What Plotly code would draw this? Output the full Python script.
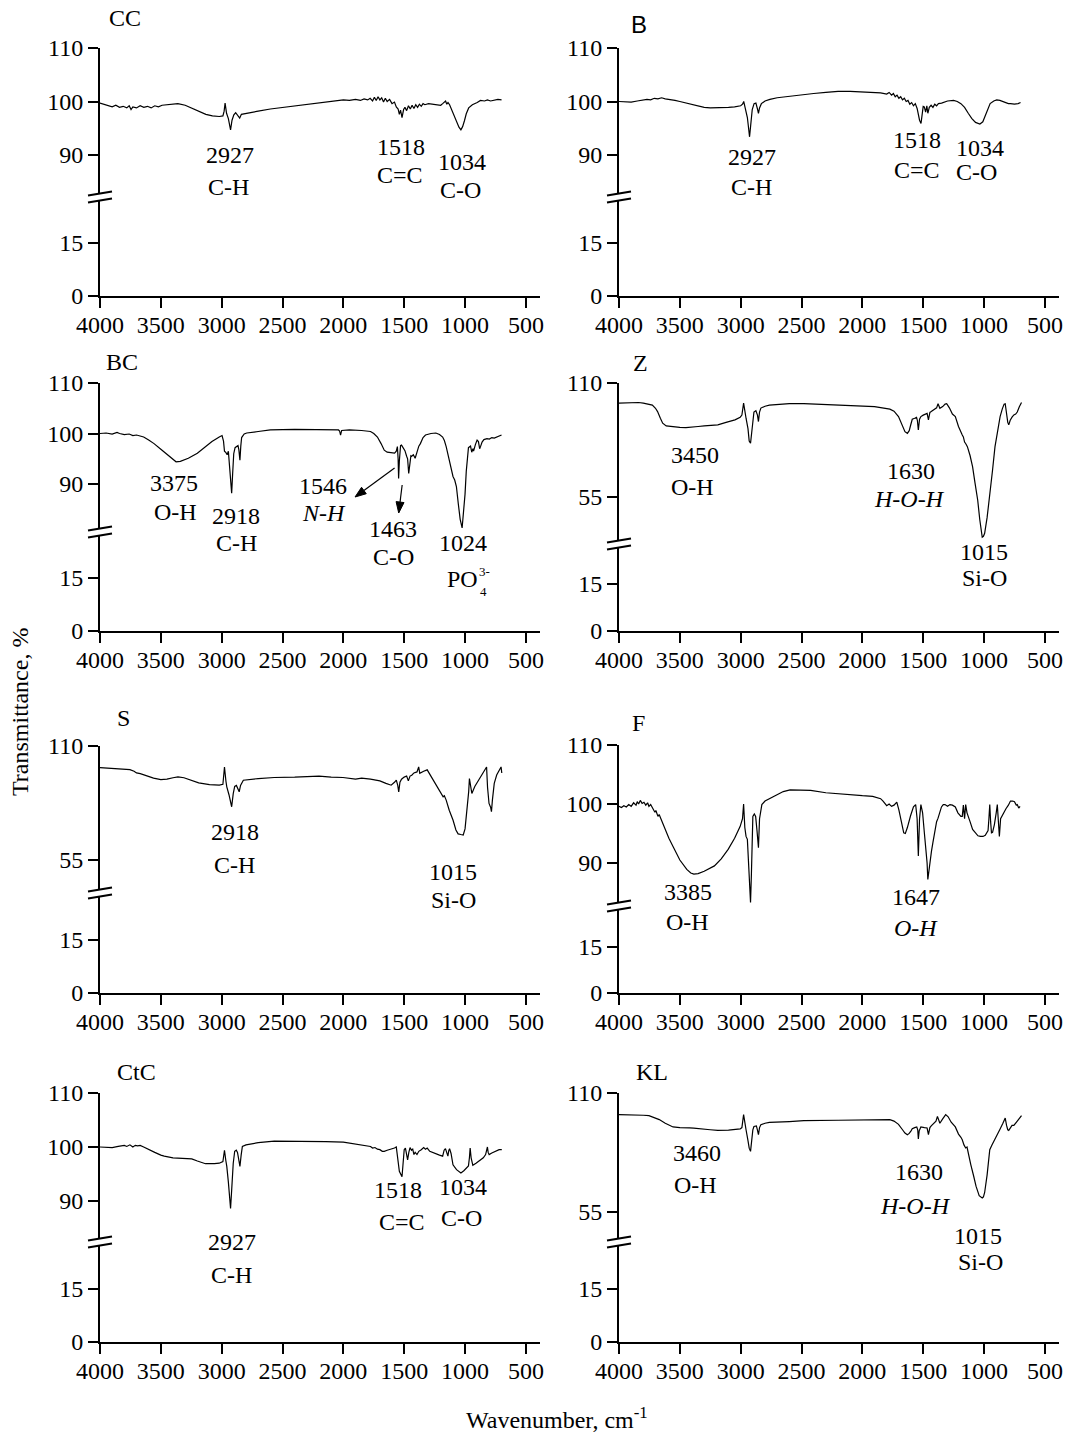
import math
import plotly.graph_objects as go

# ---------------- FTIR spectra: wavenumber (cm-1) and transmittance (%) ----------------
cc_wn = [4000, 3960, 3930, 3900, 3870, 3840, 3810, 3780, 3760, 3745, 3730, 3700, 3670, 3640, 3610,
         3580, 3550, 3520, 3490, 3450, 3400, 3360, 3300, 3240, 3190, 3130, 3076, 3020, 2990, 2980,
         2972, 2960, 2945, 2935, 2927, 2915, 2900, 2885, 2866, 2852, 2838, 2800, 2700, 2600, 2500,
         2400, 2300, 2200, 2100, 2000, 1950, 1900, 1860, 1830, 1800, 1780, 1760, 1745, 1730, 1715,
         1700, 1685, 1670, 1655, 1640, 1620, 1600, 1580, 1565, 1550, 1540, 1530, 1518, 1505, 1494,
         1480, 1465, 1450, 1435, 1420, 1405, 1390, 1375, 1360, 1345, 1330, 1300, 1250, 1200, 1184,
         1160, 1150, 1140, 1127, 1110, 1090, 1070, 1050, 1034, 1020, 1005, 990, 970, 957, 940, 900,
         873, 840, 816, 790, 760, 730, 700]
cc_t = [99.7, 99.4, 99.2, 99.0, 99.3, 98.9, 99.1, 98.8, 99.2, 98.5, 99.0, 98.8, 99.2, 98.9, 99.1,
        98.8, 99.2, 99.0, 99.3, 99.4, 99.6, 99.6, 99.3, 98.7, 98.1, 97.6, 97.3, 97.2, 97.3, 98.2,
        99.7, 97.8, 96.8, 95.8, 94.7, 96.5, 97.5, 97.9, 97.3, 96.9, 97.6, 97.8, 98.2, 98.6, 98.9,
        99.2, 99.5, 99.8, 100.1, 100.3, 100.2, 100.4, 100.2, 100.5, 100.3, 100.6, 100.1, 100.8, 100.2, 100.9,
        100.3, 100.7, 99.9, 100.6, 100.0, 100.4, 99.6, 99.9, 99.0, 98.6, 97.6, 98.4, 97.0, 98.5, 98.9,
        98.3, 99.2, 98.6, 99.3, 98.7, 99.4, 98.9, 99.5, 99.1, 99.6, 99.4, 99.6, 99.5, 99.3, 99.6,
        100.1, 99.5, 99.8, 99.4, 98.4, 97.3, 96.2, 95.2, 94.7, 95.3, 96.4, 97.7, 98.8, 99.1, 99.4, 99.8,
        100.2, 100.1, 100.3, 100.1, 100.2, 100.4, 100.3]

b_wn = [4000, 3950, 3900, 3850, 3800, 3770, 3740, 3710, 3680, 3650, 3620, 3580, 3540, 3500, 3450,
        3400, 3350, 3300, 3250, 3200, 3150, 3100, 3050, 3000, 2985, 2975, 2965, 2945, 2935, 2927,
        2918, 2905, 2890, 2875, 2862, 2854, 2845, 2830, 2800, 2760, 2700, 2600, 2500, 2400, 2300,
        2200, 2100, 2000, 1900, 1850, 1800, 1780, 1760, 1745, 1730, 1715, 1700, 1685, 1670, 1655,
        1640, 1625, 1610, 1595, 1580, 1565, 1550, 1540, 1530, 1518, 1510, 1500, 1491, 1480, 1470,
        1462, 1450, 1435, 1420, 1405, 1390, 1375, 1349, 1300, 1250, 1220, 1190, 1160, 1130, 1100,
        1070, 1050, 1034, 1010, 990, 970, 950, 920, 896, 870, 840, 800, 783, 750, 720, 700]
b_t = [100.0, 100.0, 99.9, 100.1, 100.2, 100.4, 100.3, 100.6, 100.5, 100.7, 100.5, 100.4, 100.2, 100.0, 99.7,
       99.4, 99.1, 98.9, 98.8, 98.8, 98.8, 98.9, 99.0, 99.2, 99.5, 100.0, 99.0, 97.0, 95.0, 93.4,
       95.5, 98.5, 99.6, 99.7, 98.6, 97.8, 98.8, 99.6, 100.1, 100.4, 100.7, 101.0, 101.3, 101.5, 101.7,
       101.9, 101.9, 101.8, 101.7, 101.6, 101.4, 101.7, 101.2, 101.5, 100.9, 101.2, 100.6, 100.9, 100.3, 100.6,
       100.0, 100.2, 99.5, 99.8, 99.2, 99.6, 98.7, 97.2, 96.5, 95.9, 97.8, 99.1, 99.0, 98.0, 99.2,
       97.8, 98.9, 99.3, 98.9, 99.5, 99.2, 99.6, 99.7, 100.1, 100.2, 100.0, 99.6, 98.9, 97.8, 96.8,
       96.1, 95.9, 95.8, 96.2, 97.3, 98.6, 99.6, 100.1, 100.3, 100.2, 99.9, 99.6, 99.6, 99.5, 99.6, 99.8]

bc_wn = [4000, 3950, 3900, 3860, 3839, 3800, 3760, 3730, 3700, 3670, 3641, 3600, 3556, 3500, 3443,
         3400, 3375, 3340, 3300, 3274, 3200, 3133, 3080, 3020, 2997, 2985, 2977, 2965, 2955, 2945,
         2932, 2918, 2910, 2901, 2890, 2878, 2866, 2859, 2850, 2843, 2836, 2815, 2794, 2700, 2600,
         2400, 2200, 2100, 2040, 2031, 2023, 2014, 1950, 1850, 1800, 1777, 1750, 1720, 1690, 1664,
         1640, 1610, 1579, 1565, 1556, 1550, 1546, 1540, 1530, 1522, 1510, 1494, 1480, 1472, 1463,
         1455, 1445, 1438, 1425, 1410, 1395, 1380, 1367, 1345, 1325, 1280, 1240, 1210, 1184, 1170,
         1155, 1130, 1110, 1099, 1085, 1071, 1055, 1040, 1024, 1010, 1000, 990, 980, 972, 955,
         945, 935, 930, 915, 901, 890, 880, 873, 860, 845, 820, 800, 780, 760, 740, 720, 700]
bc_t = [100.0, 100.1, 99.9, 100.2, 100.0, 99.8, 99.9, 99.6, 99.7, 99.5, 99.3, 98.7, 98.0, 96.9, 95.7,
        94.8, 94.4, 94.5, 94.8, 95.1, 96.1, 97.4, 98.4, 99.3, 99.6, 98.5, 96.5, 96.2, 95.8, 96.5,
        93.0, 88.2, 92.0, 96.0, 97.2, 97.5, 97.6, 96.8, 94.7, 97.5, 99.2, 99.9, 100.1, 100.4, 100.7,
        100.8, 100.8, 100.7, 100.7, 100.5, 99.7, 100.6, 100.7, 100.6, 100.5, 100.4, 100.0, 99.3, 98.0, 96.7,
        96.3, 96.2, 96.1, 96.5, 97.4, 95.0, 91.1, 94.5, 97.6, 97.7, 97.3, 96.6, 95.5, 95.0, 92.1,
        94.0, 95.6, 95.5, 95.8, 95.1, 96.3, 97.5, 98.0, 99.2, 99.7, 100.0, 100.1, 99.8, 99.3, 98.6,
        97.4, 94.5, 92.3, 91.5, 90.8, 89.5, 86.0, 83.0, 81.3, 84.5, 88.0, 92.5, 95.8, 97.2, 97.5,
        96.3, 97.0, 96.5, 97.8, 98.7, 98.4, 97.0, 97.4, 98.3, 98.8, 99.0, 98.9, 99.2, 99.1, 99.3, 99.4, 99.7]

z_wn = [4000, 3950, 3900, 3860, 3839, 3800, 3760, 3726, 3700, 3683, 3660, 3641, 3612, 3580, 3540,
        3500, 3450, 3400, 3350, 3300, 3250, 3188, 3120, 3047, 3004, 2990, 2976, 2965, 2956, 2940,
        2930, 2919, 2910, 2900, 2891, 2875, 2862, 2854, 2845, 2834, 2800, 2764, 2700, 2600, 2481,
        2300, 2100, 1900, 1774, 1740, 1703, 1670, 1650, 1630, 1615, 1604, 1590, 1570, 1555, 1548,
        1540, 1530, 1519, 1500, 1480, 1468, 1457, 1445, 1434, 1410, 1390, 1378, 1370, 1363, 1340,
        1320, 1307, 1285, 1260, 1236, 1210, 1190, 1179, 1170, 1160, 1150, 1137, 1115, 1094, 1075,
        1052, 1035, 1025, 1015, 1005, 995, 975, 953, 930, 910, 890, 868, 850, 835, 826,
        815, 805, 797, 785, 770, 755, 740, 727, 710, 692]
z_t = [100.3, 100.4, 100.5, 100.6, 100.6, 100.3, 99.8, 99.3, 97.8, 96.2, 93.0, 90.6, 89.3, 89.0, 88.9,
       88.6, 88.5, 88.6, 89.0, 89.3, 89.5, 89.8, 91.0, 92.2, 93.5, 94.5, 100.3, 95.0, 93.0, 88.0,
       82.0, 80.9, 87.0, 93.5, 96.0, 96.6, 94.5, 91.4, 96.0, 97.9, 98.8, 99.3, 99.7, 100.0, 100.0,
       99.5, 99.0, 98.6, 97.4, 96.4, 93.8, 89.5, 86.5, 85.7, 87.0, 89.5, 92.5, 93.0, 93.4, 92.0,
       87.3, 92.5, 93.8, 94.5, 95.0, 95.3, 92.2, 95.8, 96.2, 97.0, 98.0, 100.0, 98.0, 97.8, 98.6,
       99.8, 100.0, 98.0, 95.0, 93.8, 89.0, 86.0, 84.9, 84.0, 81.5, 80.7, 79.3, 75.0, 69.5, 62.0,
       53.4, 44.0, 38.5, 35.6, 36.0, 37.5, 45.0, 55.0, 68.0, 79.3, 87.0, 93.8, 97.5, 99.8, 100.0,
       95.0, 91.0, 89.8, 92.0, 93.5, 94.6, 95.0, 96.0, 98.5, 100.6]

s_wn = [4000, 3950, 3900, 3850, 3800, 3754, 3720, 3700, 3669, 3620, 3560, 3500, 3450, 3400, 3359,
        3310, 3260, 3189, 3100, 3020, 2990, 2977, 2965, 2958, 2940, 2930, 2918, 2905, 2893, 2879,
        2866, 2856, 2845, 2822, 2700, 2568, 2400, 2200, 2100, 2003, 1900, 1850, 1777, 1700, 1650,
        1607, 1580, 1565, 1553, 1545, 1535, 1522, 1500, 1480, 1466, 1452, 1438, 1420, 1395, 1381,
        1372, 1367, 1340, 1311, 1290, 1268, 1240, 1212, 1190, 1180, 1170, 1155, 1130, 1099, 1075,
        1057, 1035, 1015, 1000, 985, 970, 964, 955, 944, 920, 880, 840, 823, 815, 803,
        790, 783, 775, 760, 740, 720, 704, 698]
s_t = [99.6, 99.4, 99.2, 99.3, 98.9, 98.6, 97.8, 97.0, 96.7, 95.8, 94.5, 93.8, 94.0, 94.7, 95.1,
       94.7, 93.6, 92.2, 91.4, 91.1, 91.5, 99.9, 93.0, 90.3, 86.5, 83.0, 80.7, 87.0, 90.5, 91.0,
       89.5, 87.9, 91.0, 93.5, 94.3, 94.8, 95.0, 95.5, 95.0, 94.8, 94.0, 94.5, 94.0, 93.2, 92.0,
       91.1, 92.5, 93.5, 91.0, 87.9, 92.5, 94.0, 95.0, 95.5, 93.2, 95.5, 95.9, 97.0, 97.5, 99.9,
       96.8, 97.0, 97.8, 98.5, 96.5, 94.3, 91.5, 88.7, 87.0, 85.5, 86.0, 83.9, 79.0, 74.3, 69.5,
       67.6, 67.3, 67.1, 70.0, 78.0, 88.0, 94.3, 90.0, 87.1, 90.5, 94.5, 98.0, 99.9, 90.0, 82.3,
       80.5, 78.3, 84.0, 92.0, 96.0, 98.5, 99.9, 97.0]

f_wn = [4000, 3980, 3960, 3940, 3920, 3900, 3880, 3860, 3850, 3839, 3825, 3810, 3795, 3780, 3765,
        3754, 3740, 3720, 3705, 3697, 3680, 3670, 3655, 3620, 3590, 3556, 3500, 3443, 3410, 3385,
        3350, 3300, 3250, 3216, 3160, 3103, 3050, 3004, 2985, 2976, 2966, 2956, 2945, 2935, 2927,
        2919, 2912, 2900, 2888, 2877, 2866, 2854, 2845, 2826, 2800, 2764, 2700, 2650, 2594, 2500,
        2425, 2300, 2198, 2100, 2000, 1915, 1850, 1830, 1815, 1800, 1780, 1760, 1740, 1717, 1700,
        1685, 1670, 1660, 1647, 1630, 1604, 1580, 1562, 1550, 1540, 1530, 1519, 1505, 1490, 1478,
        1468, 1462, 1450, 1440, 1432, 1420, 1405, 1390, 1378, 1365, 1350, 1335, 1321, 1300, 1280,
        1260, 1236, 1215, 1200, 1190, 1179, 1170, 1160, 1151, 1140, 1128, 1115, 1094, 1070, 1050,
        1030, 1009, 990, 975, 967, 960, 953, 946, 939, 930, 915, 900, 891, 882, 874,
        864, 854, 840, 820, 800, 783, 765, 750, 735, 727, 715, 704]
f_t = [99.6, 99.4, 99.7, 99.5, 99.9, 99.6, 100.2, 99.8, 100.4, 100.0, 100.6, 100.1, 100.3, 99.8, 100.2,
       99.6, 99.9, 99.0, 98.6, 98.9, 97.9, 98.2, 97.4, 95.7, 94.2, 92.8, 90.5, 88.9, 88.3, 88.1,
       88.2, 88.6, 89.1, 89.5, 90.7, 92.3, 94.2, 96.2, 97.5, 100.0, 96.0, 94.5, 94.0, 90.0, 86.0,
       83.3, 88.0, 97.9, 98.3, 97.9, 95.5, 92.6, 97.5, 99.9, 100.5, 100.9, 101.6, 102.1, 102.4, 102.4,
       102.3, 101.9, 101.7, 101.5, 101.4, 101.3, 100.9, 100.5, 100.1, 99.7, 100.0, 99.6, 99.8, 100.3, 99.0,
       97.5, 96.0, 95.1, 95.0, 96.0, 98.0, 99.5, 99.9, 97.5, 91.2, 97.5, 99.9, 98.5, 95.0, 92.5,
       90.0, 87.2, 89.5, 91.5, 92.0, 93.5, 95.5, 97.0, 97.6, 98.5, 99.5, 99.9, 99.9, 99.6, 99.9,
       99.8, 99.5, 98.5, 98.0, 97.9, 97.9, 99.8, 97.5, 99.9, 98.5, 97.6, 97.0, 95.7, 95.0, 94.6,
       94.5, 94.5, 94.7, 95.3, 95.5, 97.5, 99.9, 97.0, 95.1, 95.2, 96.5, 98.5, 99.9, 97.0, 94.5,
       97.5, 97.9, 98.6, 99.2, 99.8, 100.5, 100.5, 100.4, 99.8, 99.9, 99.3, 99.6]

ctc_wn = [4000, 3950, 3900, 3850, 3800, 3780, 3754, 3730, 3710, 3690, 3670, 3641, 3600, 3550, 3500,
          3472, 3400, 3320, 3246, 3200, 3133, 3060, 3020, 2990, 2977, 2966, 2958, 2945, 2935, 2927,
          2918, 2905, 2893, 2880, 2870, 2862, 2850, 2840, 2830, 2800, 2700, 2568, 2400, 2200, 2143,
          2000, 1900, 1800, 1777, 1760, 1740, 1720, 1700, 1680, 1664, 1640, 1600, 1580, 1565, 1555,
          1540, 1518, 1510, 1500, 1490, 1480, 1472, 1462, 1452, 1440, 1430, 1420, 1410, 1395, 1380,
          1360, 1340, 1325, 1311, 1290, 1250, 1210, 1184, 1172, 1161, 1150, 1141, 1134, 1127, 1115,
          1099, 1070, 1050, 1034, 1010, 985, 972, 964, 958, 950, 936, 910, 880, 850, 831,
          822, 816, 810, 802, 780, 750, 720, 698]
ctc_t = [100.0, 100.0, 99.9, 100.1, 100.3, 100.1, 100.4, 100.0, 100.3, 100.2, 100.3, 100.0, 99.5, 99.0, 98.5,
         98.3, 98.0, 97.9, 97.8, 97.4, 96.9, 96.9, 97.0, 97.3, 99.4, 97.5, 96.4, 93.5, 90.5, 88.6,
         92.0, 97.0, 99.2, 99.4, 99.0, 97.6, 96.4, 98.5, 100.1, 100.4, 100.8, 101.1, 101.1, 101.1, 101.0,
         100.9, 100.6, 100.3, 100.1, 99.8, 99.9, 99.6, 99.5, 99.2, 99.2, 99.4, 99.6, 99.8, 100.0, 98.5,
         95.5, 94.5, 97.5, 99.5, 99.8, 98.8, 97.6, 99.0, 99.9, 99.4, 99.6, 98.6, 99.0, 98.6, 99.2,
         99.5, 99.9, 99.6, 99.8, 99.2, 98.8, 98.5, 98.3, 99.4, 99.7, 98.8, 98.3, 99.3, 99.7, 98.8,
         96.7, 95.8, 95.4, 95.2, 95.6, 96.3, 96.5, 98.0, 99.8, 98.0, 96.6, 97.0, 97.5, 98.0, 98.6,
         99.3, 100.0, 99.0, 98.6, 98.9, 99.2, 99.5, 99.5]

kl_wn = [4000, 3950, 3900, 3850, 3800, 3754, 3720, 3690, 3669, 3620, 3580, 3556, 3500, 3460, 3420,
         3386, 3330, 3250, 3188, 3100, 3004, 2990, 2976, 2966, 2956, 2940, 2930, 2919, 2910, 2900,
         2891, 2871, 2862, 2854, 2845, 2834, 2800, 2764, 2600, 2481, 2200, 2000, 1774, 1740, 1703,
         1670, 1650, 1630, 1615, 1600, 1590, 1570, 1553, 1545, 1540, 1533, 1519, 1490, 1468, 1457,
         1445, 1434, 1410, 1395, 1383, 1370, 1363, 1340, 1315, 1295, 1270, 1236, 1210, 1190, 1179,
         1165, 1151, 1140, 1130, 1109, 1085, 1066, 1040, 1024, 1015, 1005, 995, 975, 960, 953,
         935, 910, 890, 868, 845, 826, 815, 805, 797, 785, 770, 755, 740, 720, 692]
kl_t = [100.0, 100.0, 99.9, 99.9, 99.7, 99.5, 98.8, 98.0, 97.7, 96.0, 95.0, 94.3, 94.0, 93.8, 93.9,
        93.8, 93.6, 93.0, 92.7, 92.8, 93.4, 94.0, 100.0, 95.0, 93.0, 88.0, 84.5, 83.0, 88.0, 93.0,
        94.5, 94.8, 92.8, 90.7, 94.0, 95.3, 96.0, 96.4, 96.8, 97.2, 97.4, 97.6, 97.7, 97.0, 95.5,
        93.0, 91.5, 90.7, 91.3, 92.5, 93.5, 94.0, 94.3, 93.0, 88.7, 92.5, 94.3, 94.0, 93.8, 90.7,
        94.0, 94.8, 96.0, 97.0, 99.2, 96.5, 96.0, 98.0, 100.0, 99.0, 96.5, 94.3, 91.0, 89.5, 88.4,
        86.0, 84.6, 85.0, 82.0, 76.9, 71.5, 66.9, 62.5, 61.6, 61.5, 62.0, 64.0, 72.0, 79.0, 83.8,
        86.0, 89.0, 91.5, 93.4, 96.0, 98.4, 95.0, 93.0, 92.7, 94.0, 95.0, 95.0, 96.0, 97.5, 99.5]

samples = ["CC", "B", "BC", "Z", "S", "F", "CtC", "KL"]
spectra = {
    "CC": (cc_wn, cc_t), "B": (b_wn, b_t), "BC": (bc_wn, bc_t), "Z": (z_wn, z_t),
    "S": (s_wn, s_t), "F": (f_wn, f_t), "CtC": (ctc_wn, ctc_t), "KL": (kl_wn, kl_t),
}
x_ticks = [4000, 3500, 3000, 2500, 2000, 1500, 1000, 500]
lower_ticks = [0, 15]

# ---------------- page geometry (pixels) ----------------
W, H = 1070, 1434
SERIF = "Liberation Serif"
FS = 24


def fx(px):
    return px / W


def fy(py):
    return 1 - py / H


cols = [(100, 540), (619, 1059)]          # y-axis position and right end of x-axis
x_range = [4000, 384]
PX_PER_WN = (540 - 100) / (4000 - 384)

# upper segment ranges / ticks, and pixel rows (110-mark, axis break, 0-mark)
panels = {
    "CC":  dict(col=0, top=48,   brk=197, bottom=296,  up=[82.15, 110], up_ticks=[90, 100, 110], low_top=28.0),
    "B":   dict(col=1, top=48,   brk=197, bottom=296,  up=[82.15, 110], up_ticks=[90, 100, 110], low_top=28.0),
    "BC":  dict(col=0, top=383,  brk=532, bottom=631,  up=[80.5, 110],  up_ticks=[90, 100, 110], low_top=28.0),
    "Z":   dict(col=1, top=383,  brk=544, bottom=631,  up=[32.3, 110],  up_ticks=[55, 110],      low_top=27.8),
    "S":   dict(col=0, top=746,  brk=893, bottom=993,  up=[39.1, 110],  up_ticks=[55, 110],      low_top=28.3),
    "F":   dict(col=1, top=745,  brk=906, bottom=993,  up=[82.7, 110],  up_ticks=[90, 100, 110], low_top=28.4),
    "CtC": dict(col=0, top=1093, brk=1242, bottom=1342, up=[82.4, 110], up_ticks=[90, 100, 110], low_top=28.3),
    "KL":  dict(col=1, top=1093, brk=1242, bottom=1342, up=[41.1, 110], up_ticks=[55, 110],      low_top=28.3),
}

# band labels: (text, wavenumber position, pixel row)
labels = {
    "CC": [("2927", 2935, 155), ("C-H", 2943, 187), ("1518", 1528, 147), ("C=C", 1537, 175),
           ("1034", 1028, 162), ("C-O", 1034, 190)],
    "B": [("2927", 2911, 157), ("C-H", 2911, 187), ("1518", 1553, 140), ("C=C", 1553, 170),
          ("1034", 1032, 148), ("C-O", 1066, 172)],
    "BC": [("3375", 3393, 483), ("O-H", 3381, 512), ("2918", 2884, 516), ("C-H", 2878, 543),
           ("1546", 2167, 486), ("<i>N-H</i>", 2158, 513), ("1463", 1593, 529), ("C-O", 1585, 557),
           ("1024", 1014, 543), ("PO", 1022, 579)],
    "Z": [("3450", 3372, 455), ("O-H", 3392, 487), ("1630", 1604, 471), ("<i>H-O-H</i>", 1610, 499),
          ("1015", 1004, 552), ("Si-O", 996, 578)],
    "S": [("2918", 2893, 832), ("C-H", 2898, 865), ("1015", 1099, 872), ("Si-O", 1099, 900)],
    "F": [("3385", 3429, 892), ("O-H", 3434, 922), ("1647", 1561, 897), ("<i>O-H</i>", 1561, 928)],
    "CtC": [("2927", 2918, 1242), ("C-H", 2918, 1275), ("1518", 1551, 1190), ("C=C", 1517, 1222),
            ("1034", 1020, 1187), ("C-O", 1028, 1218)],
    "KL": [("3460", 3363, 1153), ("O-H", 3372, 1185), ("1630", 1533, 1172), ("<i>H-O-H</i>", 1561, 1206),
           ("1015", 1052, 1236), ("Si-O", 1032, 1262)],
}
titles = {"CC": (3797, 18), "B": (3833, 25), "BC": (3816, 362), "Z": (3825, 363),
          "S": (3805, 718), "F": (3839, 723), "CtC": (3703, 1072), "KL": (3731, 1072)}

fig = go.Figure()
layout = dict(
    width=W, height=H, autosize=False,
    margin=dict(l=0, r=0, t=0, b=0, autoexpand=False),
    paper_bgcolor="white", plot_bgcolor="white",
    showlegend=False,
    font=dict(family=SERIF, size=FS, color="black"),
)
annotations = []
shapes = []

axis_style = dict(showline=True, linecolor="black", linewidth=2, ticks="outside", ticklen=10,
                  tickwidth=2, tickcolor="black", showgrid=False, zeroline=False,
                  tickfont=dict(family=SERIF, size=FS, color="black"), fixedrange=True)

for i, name in enumerate(samples):
    p = panels[name]
    ax_x, x_end = cols[p["col"]]
    xid = i + 1
    yu, yl = 2 * i + 1, 2 * i + 2
    xs = "" if xid == 1 else str(xid)
    yus = "" if yu == 1 else str(yu)
    yls = str(yl)

    layout["xaxis" + xs] = dict(axis_style, domain=[fx(ax_x), fx(x_end)], range=x_range,
                                anchor="y" + yls, tickmode="array", tickvals=x_ticks,
                                ticklabelstandoff=-4)
    layout["yaxis" + yus] = dict(axis_style, domain=[fy(p["brk"]), fy(p["top"])], range=p["up"],
                                 anchor="x" + xs, tickmode="array", tickvals=p["up_ticks"])
    layout["yaxis" + yls] = dict(axis_style, domain=[fy(p["bottom"]), fy(p["brk"])],
                                 range=[0, p["low_top"]], anchor="x" + xs,
                                 tickmode="array", tickvals=lower_ticks)

    wn, tr = spectra[name]
    fig.add_trace(go.Scatter(x=wn, y=tr, mode="lines", xaxis="x" + xs, yaxis="y" + yus,
                             line=dict(color="black", width=1.2), hoverinfo="skip"))
    # empty trace so the lower (0-15) segment gets its own subplot
    fig.add_trace(go.Scatter(x=[], y=[], mode="lines", xaxis="x" + xs, yaxis="y" + yls,
                             hoverinfo="skip"))

    # axis break symbol
    b = p["brk"]
    shapes.append(dict(type="path", xref="paper", yref="paper", layer="above",
                       path=(f"M {fx(ax_x - 12)},{fy(b - 1.5)} L {fx(ax_x + 12)},{fy(b - 5.5)} "
                             f"L {fx(ax_x + 12)},{fy(b + 1.5)} L {fx(ax_x - 12)},{fy(b + 5.5)} Z"),
                       fillcolor="white", line=dict(width=0)))
    for y0, y1 in [(b - 1.5, b - 5.5), (b + 5.5, b + 1.5)]:
        shapes.append(dict(type="line", xref="paper", yref="paper", layer="above",
                           x0=fx(ax_x - 12), y0=fy(y0), x1=fx(ax_x + 12), y1=fy(y1),
                           line=dict(color="black", width=2)))

    # panel title
    tx, ty = titles[name]
    annotations.append(dict(text=name, x=tx, y=fy(ty), xref="x" + xs, yref="paper",
                            showarrow=False, xanchor="center", yanchor="middle",
                            font=dict(family="Liberation Sans" if name == "B" else SERIF,
                                      size=FS, color="black")))
    for text, wx, py in labels[name]:
        annotations.append(dict(text=text, x=wx, y=fy(py), xref="x" + xs, yref="paper",
                                showarrow=False, xanchor="center", yanchor="middle",
                                font=dict(family=SERIF, size=FS, color="black")))

# phosphate charge / index on the BC panel
annotations.append(dict(text="3-", x=844, y=fy(571), xref="x3", yref="paper", showarrow=False,
                        font=dict(family=SERIF, size=13, color="black")))
annotations.append(dict(text="4", x=850, y=fy(591), xref="x3", yref="paper", showarrow=False,
                        font=dict(family=SERIF, size=13, color="black")))


# arrows from the BC bands to their labels: shaft + filled head
def px_of(wn, col):
    return cols[col][0] + (4000 - wn) * PX_PER_WN


for (tail_wn, tail_py), (head_wn, head_py) in [((1579, 468), (1904, 497)), ((1517, 485), (1545, 513))]:
    tx_, hx_ = px_of(tail_wn, 0), px_of(head_wn, 0)
    dx, dy = hx_ - tx_, head_py - tail_py
    ln = math.hypot(dx, dy)
    ux, uy = dx / ln, dy / ln
    bx, by = hx_ - 11 * ux, head_py - 11 * uy          # base of the head
    nx, ny = -uy * 4, ux * 4
    shapes.append(dict(type="line", xref="paper", yref="paper", layer="above",
                       x0=fx(tx_), y0=fy(tail_py), x1=fx(bx), y1=fy(by),
                       line=dict(color="black", width=1.2)))
    shapes.append(dict(type="path", xref="paper", yref="paper", layer="above",
                       path=(f"M {fx(hx_)},{fy(head_py)} L {fx(bx + nx)},{fy(by + ny)} "
                             f"L {fx(bx - nx)},{fy(by - ny)} Z"),
                       fillcolor="black", line=dict(color="black", width=1)))

# shared axis titles
annotations.append(dict(text="Transmittance, %", x=fx(20), y=fy(712), xref="paper", yref="paper",
                        textangle=-90, showarrow=False, xanchor="center", yanchor="middle",
                        font=dict(family=SERIF, size=FS, color="black")))
annotations.append(dict(text="Wavenumber, cm<sup>-1</sup>", x=fx(557), y=fy(1418), xref="paper",
                        yref="paper", showarrow=False, xanchor="center", yanchor="middle",
                        font=dict(family=SERIF, size=FS, color="black")))

layout["annotations"] = annotations
layout["shapes"] = shapes
fig.update_layout(**layout)
fig.write_html("out.html")
